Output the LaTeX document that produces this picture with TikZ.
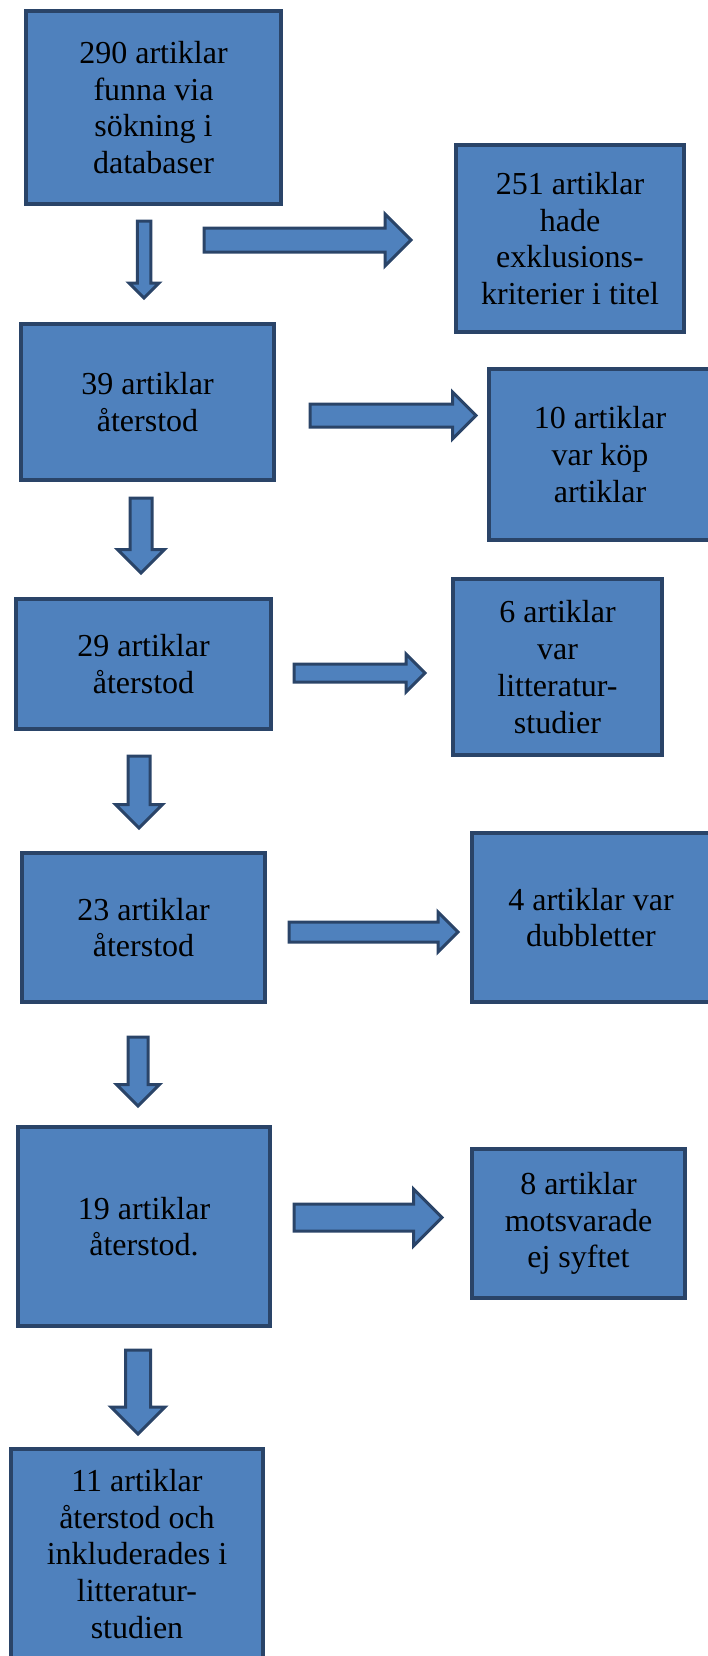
\documentclass[tikz,border=0pt]{standalone}
\usepackage{fontspec}
\setmainfont{Liberation Serif}
\newfontfamily\rutafont{Liberation Serif}
\usetikzlibrary{shapes.arrows}
\definecolor{rutafyll}{HTML}{4F81BD}
\definecolor{rutakant}{HTML}{2A4468}
\begin{document}
\begin{tikzpicture}[x=1pt,y=-1pt]
        % Styles
        \tikzstyle{ruta}=[draw=rutakant,fill=rutafyll,line width=4pt,inner sep=0pt,align=center,font=\rutafont\fontsize{32}{36.7}\selectfont]
        \tikzstyle{pil}=[single arrow,draw=rutakant,fill=rutafyll,line width=3pt,inner xsep=0pt,minimum width=0pt,anchor=tail]
        \tikzstyle{ned}=[pil,rotate=-90]
        \useasboundingbox (0,0) rectangle (707,1656);
        %the boxes
        \node[ruta,minimum width=255pt,minimum height=193pt] (b290) at (153.5,107.5) {290 artiklar\\funna via\\sökning i\\databaser};
        \node[ruta,minimum width=228pt,minimum height=187pt] (b251) at (570,238.5) {251 artiklar\\hade\\exklusions-\\kriterier i titel};
        \node[ruta,minimum width=253pt,minimum height=156pt] (b39) at (147.5,402) {39 artiklar\\återstod};
        \node[ruta,minimum width=222pt,minimum height=171pt] (b10) at (600,454.5) {10 artiklar\\var köp\\artiklar};
        \node[ruta,minimum width=255pt,minimum height=130pt] (b29) at (143.5,664) {29 artiklar\\återstod};
        \node[ruta,minimum width=209pt,minimum height=176pt] (b6) at (557.5,667) {6 artiklar\\var\\litteratur-\\studier};
        \node[ruta,minimum width=243pt,minimum height=149pt] (b23) at (143.5,927.5) {23 artiklar\\återstod};
        \node[ruta,minimum width=238pt,minimum height=169pt] (b4) at (591,917.5) {4 artiklar var\\dubbletter};
        \node[ruta,minimum width=252pt,minimum height=199pt] (b19) at (144,1226.5) {19 artiklar\\återstod.};
        \node[ruta,minimum width=213pt,minimum height=149pt] (b8) at (578.5,1223.5) {8 artiklar\\motsvarade\\ej syftet};
        \node[ruta,minimum width=252pt,minimum height=210pt] (b11) at (137,1554) {11 artiklar\\återstod och\\inkluderades i\\litteratur-\\studien};
        %arrows to the right
        \node[pil,minimum height=207pt,inner ysep=10.5pt,single arrow head extend=14pt] (p1) at (202.5,240) {};
        \node[pil,minimum height=166pt,inner ysep=10pt,single arrow head extend=12pt] (p2) at (308.5,415.5) {};
        \node[pil,minimum height=131pt,inner ysep=7.5pt,single arrow head extend=10pt] (p3) at (292.5,673) {};
        \node[pil,minimum height=169pt,inner ysep=8.5pt,single arrow head extend=10pt] (p4) at (287.5,932) {};
        \node[pil,minimum height=148pt,inner ysep=12pt,single arrow head extend=15pt] (p5) at (292.5,1217.5) {};
        %arrows down
        \node[ned,minimum height=77pt,inner ysep=5.25pt,single arrow head extend=8.25pt] (n1) at (144,219.5) {};
        \node[ned,minimum height=75pt,inner ysep=9.5pt,single arrow head extend=12.5pt] (n2) at (141,496.5) {};
        \node[ned,minimum height=72pt,inner ysep=9.5pt,single arrow head extend=12.5pt] (n3) at (139,754.5) {};
        \node[ned,minimum height=69pt,inner ysep=8.5pt,single arrow head extend=11.5pt] (n4) at (138,1035.5) {};
        \node[ned,minimum height=84pt,inner ysep=11pt,single arrow head extend=14.5pt] (n5) at (138,1348.5) {};
\end{tikzpicture}
\end{document}
